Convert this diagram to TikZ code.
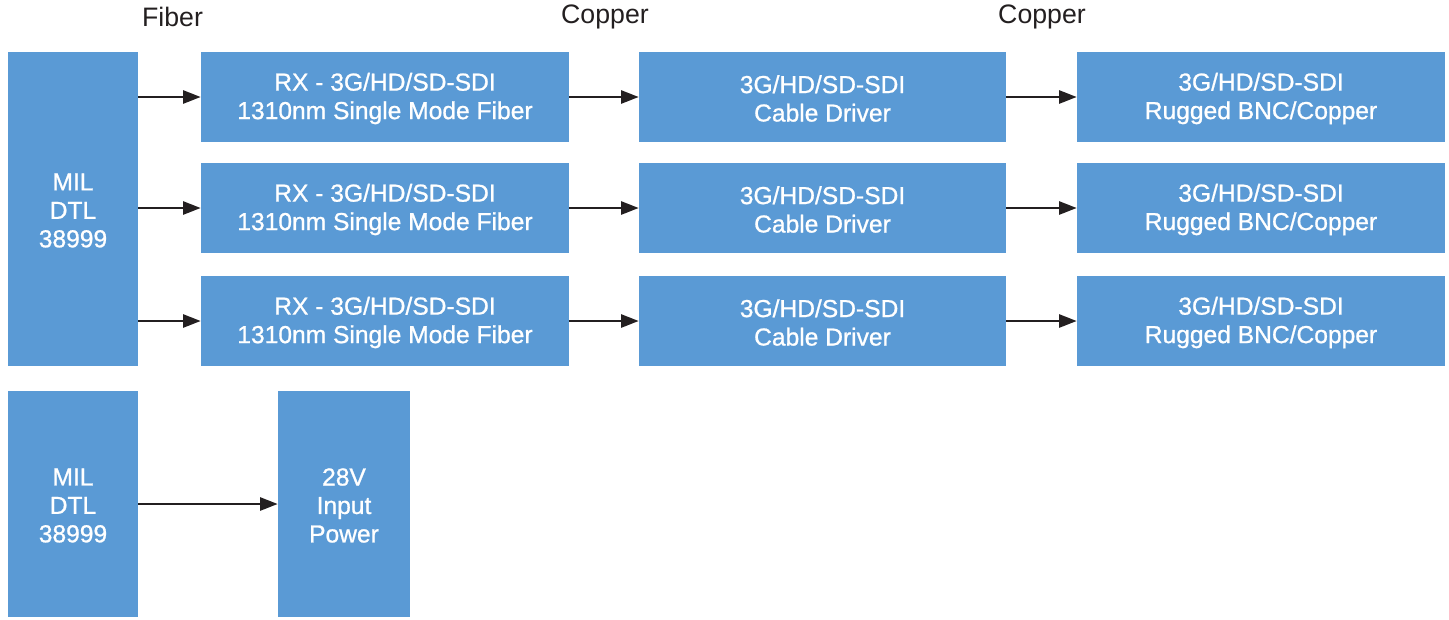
\documentclass[tikz,border=0pt]{standalone}
\usepackage{fontspec}
\setmainfont{Liberation Sans}
\newfontfamily\medfont[FakeBold=0.9]{Liberation Sans}
\usetikzlibrary{arrows.meta}
\definecolor{boxblue}{HTML}{5A9AD5}
\definecolor{ink}{HTML}{231F20}
\tikzset{
  blk/.style={fill=boxblue, draw=none, inner sep=0pt, text=white, align=center, font=\medfont\fontsize{14}{16.2}\selectfont},
  lbl/.style={text=ink, font=\fontsize{15.2}{17}\selectfont, inner sep=0pt},
  conn/.style={draw=ink, line width=1.2pt, -{Triangle[length=10pt,width=7.5pt]}}
}
\newcommand{\bx}[6]{% name, x1, y1, x2, y2, text
  \path[blk] (#2,#3) rectangle (#4,#5);
  \node[blk, fill=none, minimum width={(#4-#2)*0.02cm}, minimum height={(#5-#3)*0.02cm}] (#1) at ({(#2+#4)/2},{(#3+#5)/2+1.5}) {#6};
}
\begin{document}
\begin{tikzpicture}[x=0.02cm,y=-0.02cm]
\useasboundingbox (0,0) rectangle (1449,619);
\bx{mil}{8}{52}{138}{366}{MIL\\DTL\\38999}
\bx{milb}{8}{391}{138}{617}{MIL\\DTL\\38999}
\bx{pwr}{278}{391}{410}{617}{28V\\Input\\Power}
\foreach \i/\ya/\yb in {1/52/142,2/163/253,3/276/366}{
  \bx{rx\i}{201}{\ya}{569}{\yb}{RX - 3G/HD/SD-SDI\\1310nm Single Mode Fiber}
  \bx{cd\i}{639}{\ya}{1006}{\yb}{3G/HD/SD-SDI\\Cable Driver}
  \bx{rb\i}{1077}{\ya}{1445}{\yb}{3G/HD/SD-SDI\\Rugged BNC/Copper}
  \draw[conn] ([yshift=1.5*0.02cm]mil.east |- rx\i.west) -- ([yshift=1.5*0.02cm]rx\i.west);
  \draw[conn] ([yshift=1.5*0.02cm]rx\i.east) -- ([yshift=1.5*0.02cm]cd\i.west);
  \draw[conn] ([yshift=1.5*0.02cm]cd\i.east) -- ([yshift=1.5*0.02cm]rb\i.west);
}
\draw[conn] ([yshift=1.5*0.02cm]milb.east |- pwr.west) -- ([yshift=1.5*0.02cm]pwr.west);
\node[lbl] (f) at (172.5,17) {Fiber};
\node[lbl] (c1) at (605,17) {Copper};
\node[lbl] (c2) at (1042,17) {Copper};
\end{tikzpicture}
\end{document}
